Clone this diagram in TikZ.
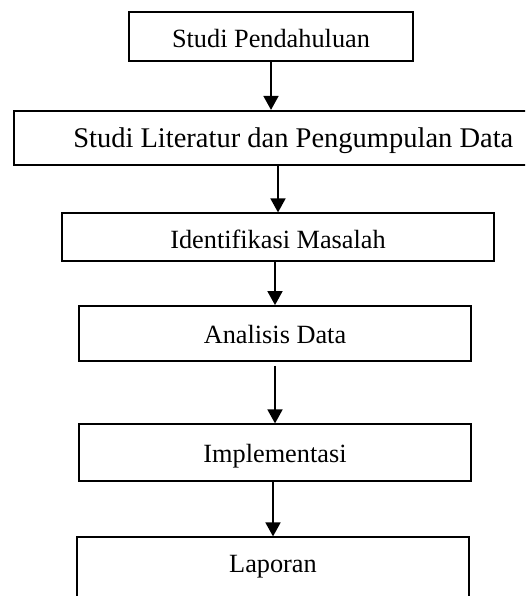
\documentclass[tikz,border=0pt]{standalone}
\usepackage{fontspec}
\setmainfont{Liberation Serif}
\usetikzlibrary{arrows.meta,positioning}
\begin{document}
\begin{tikzpicture}[x=1pt,y=-1pt,>={Triangle[width=15pt,length=14pt]},line width=1.8pt]
\tikzstyle{block} = [rectangle, draw, inner sep=0pt,
    text height=19pt, text depth=0pt, font=\fontsize{26.3}{30}\selectfont]
\tikzstyle{signal} = [draw,->]

\useasboundingbox (0,0) rectangle (525,596);
\clip (0,0) rectangle (525,596);

\node[block, minimum width=284pt, minimum height=49pt, text height=23pt] (pendahuluan) at (271,36.5) {Studi Pendahuluan};
\node[block, minimum width=559pt, minimum height=54pt, font=\fontsize{28.5}{32}\selectfont] (literatur) at (293.3,137.8) {Studi Literatur dan Pengumpulan Data};
\node[block, minimum width=432pt, minimum height=48pt, text height=23pt] (masalah) at (278,237.3) {Identifikasi Masalah};
\node[block, minimum width=392pt, minimum height=55pt] (analisis) at (275,333.5) {Analisis Data};
\node[block, minimum width=392pt, minimum height=56.4pt] (implementasi) at (275,452.5) {Implementasi};
\node[block, minimum width=392pt, minimum height=62pt, text depth=10pt] (laporan) at (273,568.3) {Laporan};

\draw[signal] (pendahuluan.south) -- (pendahuluan.south |- literatur.north);
\draw[signal] (masalah.north |- literatur.south) -- (masalah.north);
\draw[signal] (analisis.north |- masalah.south) -- (analisis.north);
\draw[signal] ([yshift=-4pt]analisis.south) -- (implementasi.north);
\draw[signal] (laporan.north |- implementasi.south) -- (laporan.north);

\end{tikzpicture}
\end{document}
